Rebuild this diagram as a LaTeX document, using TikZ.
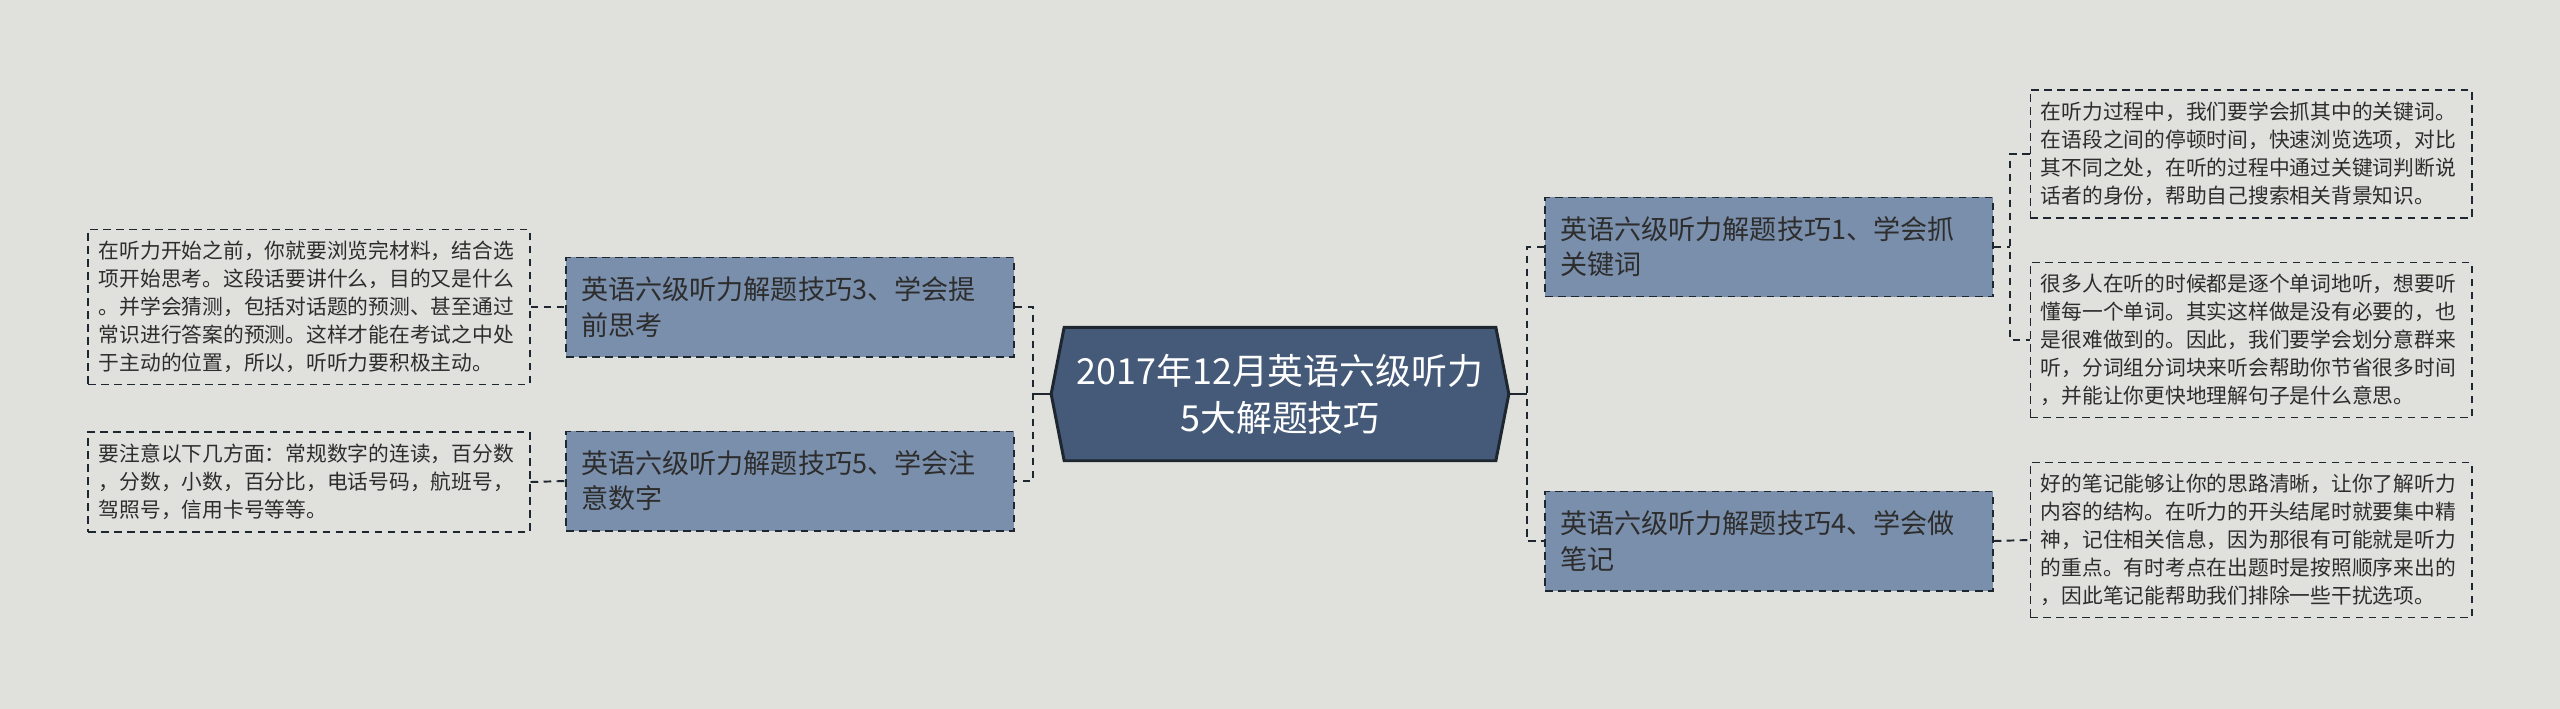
\documentclass[tikz,border=0pt]{standalone}
\usepackage{fontspec}
\newfontfamily\cjk{Noto Sans CJK SC}
\definecolor{bgcol}{RGB}{224,225,221}
\definecolor{boxcol}{RGB}{122,143,172}
\definecolor{topcol}{RGB}{68,90,120}
\definecolor{linecol}{RGB}{30,38,48}
\definecolor{txtcol}{RGB}{45,45,45}
\pgfdeclarelayer{back}
\pgfdeclarelayer{hex}
\pgfsetlayers{back,hex,main}

\begin{document}
\begin{tikzpicture}[
		x=0.01cm, y=-0.01cm,
		every node/.style={font=\cjk, text=txtcol},
		topic/.style={text=white, font=\cjk\fontsize{10.2}{13.3}\selectfont, align=center, minimum width=4.30cm, minimum height=1.32cm, inner sep=0pt},
		branch/.style={draw=linecol, line width=0.55pt, dash pattern=on 2.2pt off 1.5pt, fill=boxcol, font=\cjk\fontsize{7.7}{10}\selectfont, align=left, text width=4.17cm, inner xsep=0.15cm, inner ysep=0pt, minimum height=0.99cm},
		leaf/.style={draw=linecol, line width=0.5pt, dash pattern=on 2.2pt off 1.5pt, fill=bgcol, font=\cjk\fontsize{5.9}{8}\selectfont, align=left, text width=4.2cm, inner xsep=0.105cm, inner ysep=0pt},
		link/.style={draw=linecol, line width=0.55pt, dash pattern=on 2.2pt off 1.5pt},
		stem/.style={draw=linecol, line width=0.8pt}
	]

		\begin{pgfonlayer}{back}
			\fill[bgcol] (0,0) rectangle (2560,709);
		\end{pgfonlayer}
		\useasboundingbox (0,0) rectangle (2560,709);

		% Nodes
		\node[topic] (main) at (1280,394) {2017年12月英语六级听力\\5大解题技巧};
		\coordinate (mainL) at ([xshift=-0.13cm]main.west);
		\coordinate (mainR) at ([xshift=0.13cm]main.east);
		\begin{pgfonlayer}{hex}
			\filldraw[fill=topcol, draw=linecol, line width=0.85pt] (mainL) -- (main.north west) -- (main.north east) -- (mainR) -- (main.south east) -- (main.south west) -- cycle;
		\end{pgfonlayer}

		\node[branch] (tip3) at (790,307) {英语六级听力解题技巧3、学会提\\前思考};
		\node[branch] (tip5) at (790,481) {英语六级听力解题技巧5、学会注\\意数字};
		\node[branch] (tip1) at (1769,247) {英语六级听力解题技巧1、学会抓\\关键词};
		\node[branch] (tip4) at (1769,541) {英语六级听力解题技巧4、学会做\\笔记};

		\node[leaf, minimum height=1.55cm] (note3) at (309,307) {在听力开始之前，你就要浏览完材料，结合选\\项开始思考。这段话要讲什么，目的又是什么\\。并学会猜测，包括对话题的预测、甚至通过\\常识进行答案的预测。这样才能在考试之中处\\于主动的位置，所以，听听力要积极主动。};
		\node[leaf, minimum height=1.00cm] (note5) at (309,482) {要注意以下几方面：常规数字的连读，百分数\\，分数，小数，百分比，电话号码，航班号，\\驾照号，信用卡号等等。};
		\node[leaf, minimum height=1.28cm] (note1a) at (2251,154) {在听力过程中，我们要学会抓其中的关键词。\\在语段之间的停顿时间，快速浏览选项，对比\\其不同之处，在听的过程中通过关键词判断说\\话者的身份，帮助自己搜索相关背景知识。};
		\node[leaf, minimum height=1.55cm] (note1b) at (2251,340) {很多人在听的时候都是逐个单词地听，想要听\\懂每一个单词。其实这样做是没有必要的，也\\是很难做到的。因此，我们要学会划分意群来\\听，分词组分词块来听会帮助你节省很多时间\\，并能让你更快地理解句子是什么意思。};
		\node[leaf, minimum height=1.55cm] (note4) at (2251,540) {好的笔记能够让你的思路清晰，让你了解听力\\内容的结构。在听力的开头结尾时就要集中精\\神，记住相关信息，因为那很有可能就是听力\\的重点。有时考点在出题时是按照顺序来出的\\，因此笔记能帮助我们排除一些干扰选项。};

		\coordinate (ljoin) at (1033,394);
		\coordinate (rjoin) at (1527,394);
		\coordinate (kjoin) at (2010,247);

		% Arrows
		\draw[stem] (mainL) -- (ljoin);
		\draw[stem] (mainR) -- (rjoin);
		\draw[link] (tip3.east) -| (ljoin) |- (tip5.east);
		\draw[link] (tip1.west) -| (rjoin) |- (tip4.west);
		\draw[link] (note3.east) -- (tip3.west);
		\draw[link] (note5.east) -- (tip5.west);
		\draw[link] (tip1.east) -- (kjoin);
		\draw[link] (note1a.west) -| (kjoin) |- (note1b.west);
		\draw[link] (tip4.east) -- (note4.west);

	\end{tikzpicture}
\end{document}
